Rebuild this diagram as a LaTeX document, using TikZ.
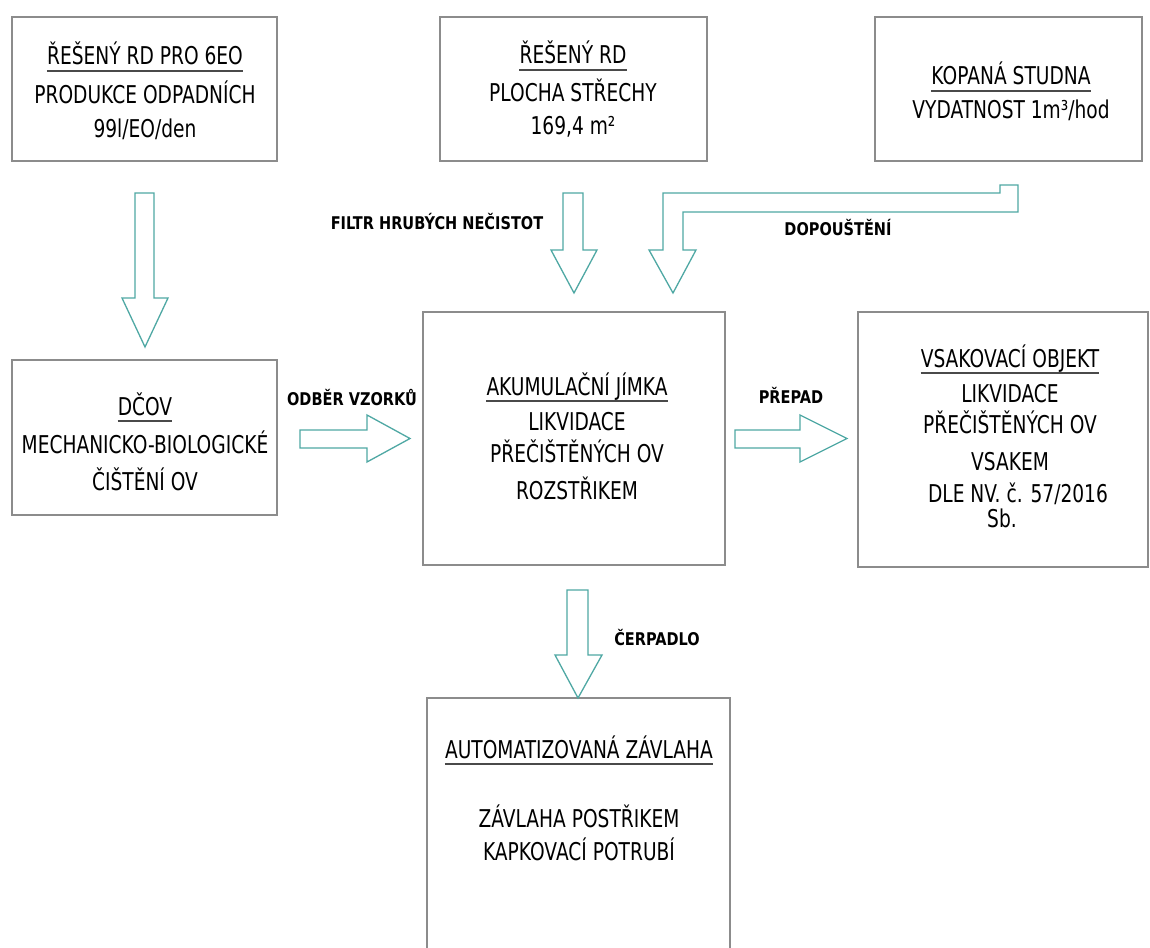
\documentclass[tikz,border=0pt]{standalone}
\usepackage{fontspec}
\setmainfont{DejaVu Sans}[FakeStretch=0.76]
\newfontfamily\lblfont{DejaVu Sans}[FakeStretch=0.83]
\definecolor{boxgray}{HTML}{8C8C8C}
\definecolor{ulgray}{HTML}{4A4A4A}
\definecolor{arrteal}{HTML}{4FA8A4}
\tikzset{
  boxnode/.style={draw=boxgray, line width=1.4pt, rectangle, inner sep=0pt},
  txt/.style={anchor=base, inner sep=0pt, font=\fontsize{24.5}{28}\selectfont},
  lbl/.style={anchor=base, inner sep=0pt, font=\lblfont\bfseries\fontsize{17.5}{20}\selectfont},
  blk/.style={draw=arrteal, line width=1.3pt, fill=white, line join=miter},
  uline/.style={draw=ulgray, line width=2pt}
}
\begin{document}
\begin{tikzpicture}[x=1pt,y=-1pt]
\useasboundingbox[fill=white] (0,0) rectangle (1150,947);

% boxes
\node[boxnode, minimum width=265pt, minimum height=144pt] (b1) at (144.5,89) {};
\node[boxnode, minimum width=267pt, minimum height=144pt] (b2) at (573.5,89) {};
\node[boxnode, minimum width=267pt, minimum height=144pt] (b3) at (1008.5,89) {};
\node[boxnode, minimum width=265pt, minimum height=155pt] (b4) at (144.5,437.5) {};
\node[boxnode, minimum width=302pt, minimum height=253pt] (b5) at (574,438.5) {};
\node[boxnode, minimum width=290pt, minimum height=255pt] (b6) at (1003,439.5) {};
\node[boxnode, minimum width=303pt, minimum height=272pt] (b7) at (578.5,834) {};

% box texts
\node[txt] (t1a) at (145,65) {ŘEŠENÝ RD PRO 6EO};
\node[txt] (t1b) at (145,103) {PRODUKCE ODPADNÍCH};
\node[txt] (t1c) at (145,137) {99l/EO/den};

\node[txt] (t2a) at (573,64) {ŘEŠENÝ RD};
\node[txt] (t2b) at (573,102) {PLOCHA STŘECHY};
\node[txt] (t2c) at (573,134) {169,4 m²};

\node[txt] (t3a) at (1011,85) {KOPANÁ STUDNA};
\node[txt] (t3b) at (1011,118) {VYDATNOST 1m³/hod};

\node[txt] (t4a) at (145,415) {DČOV};
\node[txt] (t4b) at (145,453) {MECHANICKO-BIOLOGICKÉ};
\node[txt] (t4c) at (145,490) {ČIŠTĚNÍ OV};

\node[txt] (t5a) at (577,395) {AKUMULAČNÍ JÍMKA};
\node[txt] (t5b) at (577,430) {LIKVIDACE};
\node[txt] (t5c) at (577,462) {PŘEČIŠTĚNÝCH OV};
\node[txt] (t5d) at (577,499) {ROZSTŘIKEM};

\node[txt] (t6a) at (1010,367) {VSAKOVACÍ OBJEKT};
\node[txt] (t6b) at (1010,402) {LIKVIDACE};
\node[txt] (t6c) at (1010,433) {PŘEČIŠTĚNÝCH OV};
\node[txt] (t6d) at (1010,470) {VSAKEM};
\node[txt] (t6e) at (1018,502) {DLE NV. č. 57/2016};
\node[txt] (t6f) at (1002,527) {Sb.};

\node[txt] (t7a) at (579,758) {AUTOMATIZOVANÁ ZÁVLAHA};
\node[txt] (t7b) at (579,827) {ZÁVLAHA POSTŘIKEM};
\node[txt] (t7c) at (579,860) {KAPKOVACÍ POTRUBÍ};

% underlines
\foreach \t in {t1a,t2a,t3a,t4a,t5a,t6a,t7a}{
  \draw[uline] ([yshift=-6pt]\t.base west) -- ([yshift=-6pt]\t.base east);
}

% labels
\node[lbl] (l1) at (437,229) {FILTR HRUBÝCH NEČISTOT};
\node[lbl] (l2) at (838,235) {DOPOUŠTĚNÍ};
\node[lbl] (l3) at (352,405) {ODBĚR VZORKŮ};
\node[lbl] (l4) at (791,403) {PŘEPAD};
\node[lbl] (l5) at (657,645) {ČERPADLO};

% block arrows
\draw[blk] (145,347) -- (122,298) -- (135,298) -- (135,193) -- (154,193) -- (154,298) -- (168,298) -- cycle;
\draw[blk] (574,293) -- (551,250) -- (563,250) -- (563,193) -- (583,193) -- (583,250) -- (597,250) -- cycle;
\draw[blk] (673,293) -- (649,250) -- (663,250) -- (663,193) -- (1000,193) -- (1000,185) -- (1018,185) -- (1018,212) -- (683,212) -- (683,250) -- (696,250) -- cycle;
\draw[blk] (300,430) -- (367,430) -- (367,415) -- (410,438.5) -- (367,462) -- (367,448) -- (300,448) -- cycle;
\draw[blk] (735,430) -- (800,430) -- (800,415) -- (847,438.5) -- (800,462) -- (800,448) -- (735,448) -- cycle;
\draw[blk] (578,698) -- (555,655) -- (567,655) -- (567,590) -- (588,590) -- (588,655) -- (602,655) -- cycle;
\end{tikzpicture}
\end{document}
